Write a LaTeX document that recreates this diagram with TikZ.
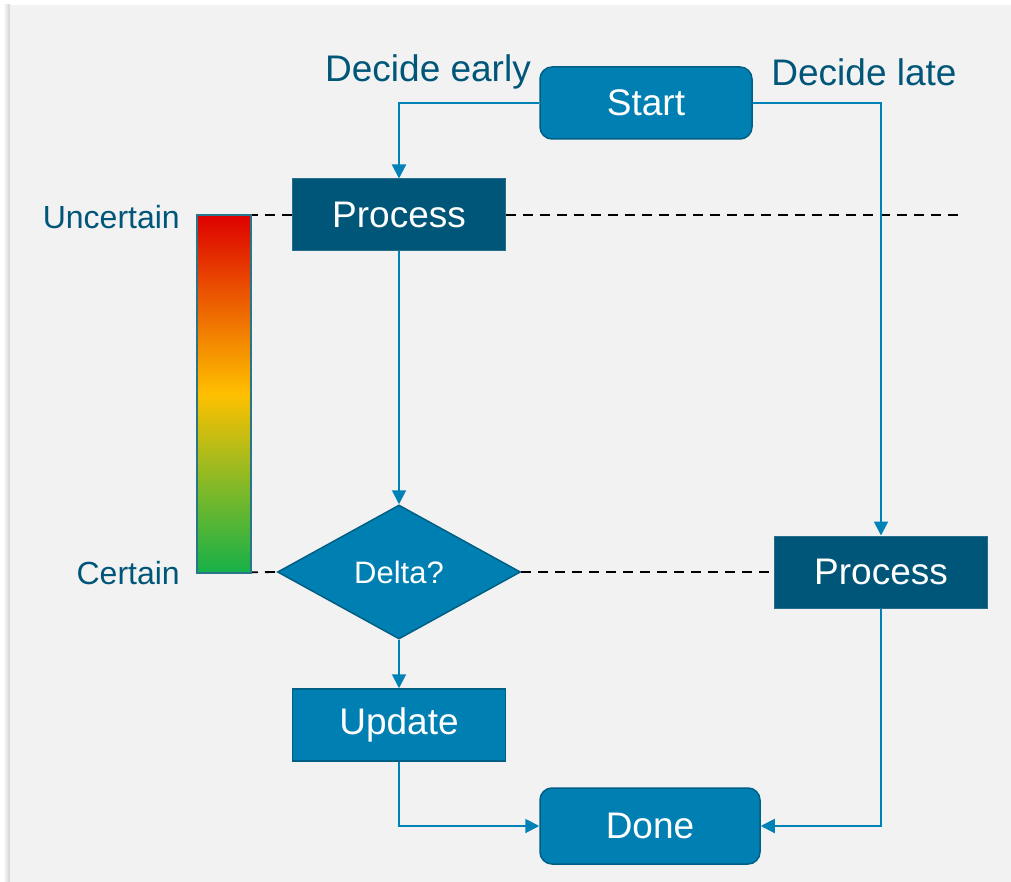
\documentclass[tikz,border=0pt]{standalone}
\usepackage{fontspec}
\setmainfont{Liberation Sans}
\usetikzlibrary{shapes.geometric,arrows.meta}
\definecolor{boxblue}{RGB}{0,128,178}
\definecolor{boxedge}{RGB}{0,95,133}
\definecolor{darkbox}{RGB}{0,86,120}
\definecolor{labelc}{RGB}{0,86,120}
\definecolor{linec}{RGB}{0,130,182}
\definecolor{panel}{RGB}{242,242,242}
\definecolor{gA}{RGB}{22,176,72}
\definecolor{gB}{RGB}{130,185,40}
\definecolor{gC}{RGB}{255,192,0}
\definecolor{gD}{RGB}{238,108,0}
\definecolor{gE}{RGB}{222,0,0}
\definecolor{baredge}{RGB}{40,118,140}
\pgfdeclareverticalshading{gradbar}{100bp}{color(0bp)=(gA); color(25bp)=(gA); color(37bp)=(gB); color(50bp)=(gC); color(61bp)=(gD); color(75bp)=(gE); color(100bp)=(gE)}
\tikzset{
  big/.style={font=\fontsize{37}{40}\selectfont, text=white},
  roundbox/.style={big, rectangle, rounded corners=12pt, fill=boxblue, draw=boxedge, line width=1.5pt, inner sep=0pt},
  darkrect/.style={big, rectangle, fill=darkbox, draw=darkbox!85!white, line width=1pt, minimum width=213pt, minimum height=72pt, inner sep=0pt},
  bluerect/.style={big, rectangle, fill=boxblue, draw=boxedge, line width=1.5pt, minimum width=213pt, minimum height=72pt, inner sep=0pt},
  decision/.style={diamond, fill=boxblue, draw=boxedge, line width=1.5pt, minimum width=243pt, minimum height=134pt, inner sep=0pt, text=white, font=\fontsize{31}{34}\selectfont},
  sidelabel/.style={text=labelc, inner sep=0pt, font=\fontsize{32}{35}\selectfont},
  toplabel/.style={text=labelc, inner sep=0pt, font=\fontsize{37}{40}\selectfont},
  conn/.style={draw=linec, line width=2pt, -{Triangle[length=14pt,width=14pt]}},
  dashln/.style={black, line width=1.8pt, dash pattern=on 10pt off 7pt},
  gbar/.style={rectangle, shading=gradbar, draw=baredge, line width=1.5pt, minimum width=54pt, minimum height=358pt, inner sep=0pt}
}
\begin{document}
\begin{tikzpicture}[x=1pt,y=-1pt]
\useasboundingbox (0,0) rectangle (1011,882);
\fill[white] (0,0) rectangle (1011,882);
\shade[left color=white, right color=black!18] (3,5) rectangle (10,882);
\fill[panel] (10,5) rectangle (1011,882);

% coordinates for dashed line ends
\coordinate (d1s) at (197,215);
\coordinate (d1e) at (960,215);
\coordinate (d2s) at (197,573);

% nodes
\node[roundbox, minimum width=212pt, minimum height=72pt] (start) at (646,103) {\raisebox{-2pt}{Start}};
\node[darkrect] (p1) at (399,215) {\raisebox{-2pt}{Process}};
\node[darkrect] (p2) at (881,572) {\raisebox{-2pt}{Process}};
\node[decision] (delta) at (399,572) {\raisebox{-1pt}{Delta?}};
\node[bluerect] (upd) at (399,725) {\raisebox{-2pt}{Update}};
\node[roundbox, minimum width=220pt, minimum height=76pt] (done) at (650,826) {\raisebox{-2pt}{Done}};

% dashed lines
\draw[dashln] (d1s) -- (p1.west);
\draw[dashln] (p1.east) -- (d1e);
\draw[dashln] (d2s) -- (delta.west);
\draw[dashln] (delta.east) -- (p2.west);

% gradient bar
\node[gbar] (bar) at (224,394) {};

% labels
\node[sidelabel, anchor=east] (unc) at (180,217) {Uncertain};
\node[sidelabel, anchor=east] (cer) at (180,573) {Certain};
\node[toplabel] (early) at (428,72) {Decide early};
\node[toplabel] (late) at (864,72) {Decide late};

% connectors
\draw[conn] (start.west) -| (p1.north);
\draw[conn] (start.east) -| (p2.north);
\draw[conn] (p1.south) -- (delta.north);
\draw[conn] (delta.south) -- (upd.north);
\draw[conn] (upd.south) |- (done.west);
\draw[conn] (p2.south) |- (done.east);
\end{tikzpicture}
\end{document}
